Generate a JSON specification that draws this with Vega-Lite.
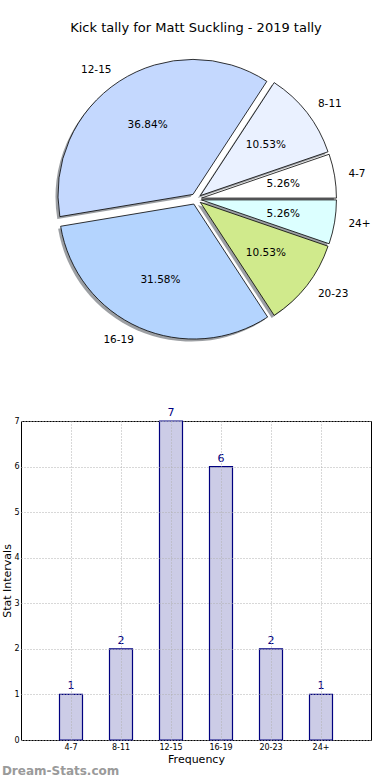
{
  "$schema": "https://vega.github.io/schema/vega-lite/v6.json",
  "padding": {"top": 22, "left": 1, "right": 0, "bottom": 0},
  "spacing": 62,
  "bounds": "flush",
  "config": {"font": "DejaVu Sans", "view": {"stroke": null}},
  "datasets": {
    "kicks": [
      {"k": "4-7", "n": 1, "i": 1, "pct": "5.26%"},
      {"k": "8-11", "n": 2, "i": 2, "pct": "10.53%"},
      {"k": "12-15", "n": 7, "i": 3, "pct": "36.84%"},
      {"k": "16-19", "n": 6, "i": 4, "pct": "31.58%"},
      {"k": "20-23", "n": 2, "i": 5, "pct": "10.53%"},
      {"k": "24+", "n": 1, "i": 6, "pct": "5.26%"}
    ]
  },
  "vconcat": [
    {
      "title": {"text": "Kick tally for Matt Suckling - 2019 tally", "fontSize": 13, "fontWeight": "normal", "offset": 4, "anchor": "middle", "color": "black"},
      "width": 350,
      "height": 320,
      "data": {"name": "kicks"},
      "encoding": {
        "theta": {"field": "n", "type": "quantitative", "stack": true, "scale": {"domain": [0, 19], "range": [1.5707963, -4.712389]}},
        "order": {"field": "i", "type": "quantitative"}
      },
      "layer": [
        {
          "mark": {"type": "arc", "outerRadius": 135, "fill": "#3a3f48", "opacity": 0.5,
            "xOffset": {"expr": "-2.5 + 5.5*cos(PI*(datum.n_start+datum.n_end)/19)"},
            "yOffset": {"expr": "2.5 - 5.5*sin(PI*(datum.n_start+datum.n_end)/19)"}}
        },
        {
          "mark": {"type": "arc", "outerRadius": 135, "stroke": "black", "strokeWidth": 0.8,
            "xOffset": {"expr": "5.5*cos(PI*(datum.n_start+datum.n_end)/19)"},
            "yOffset": {"expr": "-5.5*sin(PI*(datum.n_start+datum.n_end)/19)"}},
          "encoding": {
            "color": {"field": "k", "type": "nominal", "legend": null,
              "scale": {"domain": ["4-7", "8-11", "12-15", "16-19", "20-23", "24+"],
                        "range": ["#FFFFFF", "#EAF1FF", "#C4D8FE", "#B4D4FE", "#D0EA8C", "#DCFFFF"]}}
          }
        },
        {
          "mark": {"type": "text", "radius": 83, "fontSize": 10.5, "color": "black",
            "xOffset": {"expr": "5.5*cos(PI*(datum.n_start+datum.n_end)/19)"},
            "yOffset": {"expr": "-5.5*sin(PI*(datum.n_start+datum.n_end)/19)"}},
          "encoding": {"text": {"field": "pct"}}
        },
        {
          "mark": {"type": "text", "radius": 149, "fontSize": 10.5, "color": "black", "baseline": "middle",
            "align": {"expr": "cos(PI*(datum.n_start+datum.n_end)/19) < 0 ? 'right' : 'left'"},
            "xOffset": {"expr": "5.5*cos(PI*(datum.n_start+datum.n_end)/19)"},
            "yOffset": {"expr": "-5.5*sin(PI*(datum.n_start+datum.n_end)/19)"}},
          "encoding": {"text": {"field": "k"}}
        }
      ]
    },
    {
      "width": 350,
      "height": 319,
      "view": {"stroke": "black", "strokeWidth": 1},
      "data": {"name": "kicks"},
      "title": {"text": "Dream-Stats.com", "orient": "bottom", "anchor": "start", "frame": "bounds", "fontSize": 12, "fontWeight": "bold", "color": "#9a9a9a", "offset": 2},
      "encoding": {
        "x": {"field": "k", "type": "ordinal", "sort": ["4-7", "8-11", "12-15", "16-19", "20-23", "24+"],
          "scale": {"paddingInner": 0.54, "paddingOuter": 0.77},
          "axis": {"title": "Frequency", "labelAngle": 0, "labelFontSize": 8, "labelColor": "black", "ticks": false, "domain": false,
            "grid": true, "gridDash": [1, 2], "gridColor": "#b0b0b0", "bandPosition": 0.5, "zindex": 1,
            "titleFontSize": 11, "titleFontWeight": "normal", "titleColor": "black", "labelPadding": 3, "titlePadding": 2}},
        "y": {"field": "n", "type": "quantitative", "scale": {"domain": [0, 7], "nice": false},
          "axis": {"title": "Stat Intervals", "values": [0, 1, 2, 3, 4, 5, 6, 7], "labelFontSize": 8, "labelColor": "black", "ticks": false, "domain": false,
            "grid": true, "gridDash": [1, 2], "gridColor": "#b0b0b0", "zindex": 1,
            "titleFontSize": 11, "titleFontWeight": "normal", "titleColor": "black", "labelPadding": 2, "titlePadding": 1}}
      },
      "layer": [
        {"mark": {"type": "bar", "fill": "#CCCCE6", "stroke": "#000080", "strokeWidth": 1.2}},
        {"mark": {"type": "text", "dy": -8, "fontSize": 11, "color": "#000080"}, "encoding": {"text": {"field": "n", "type": "quantitative"}}}
      ]
    }
  ]
}
